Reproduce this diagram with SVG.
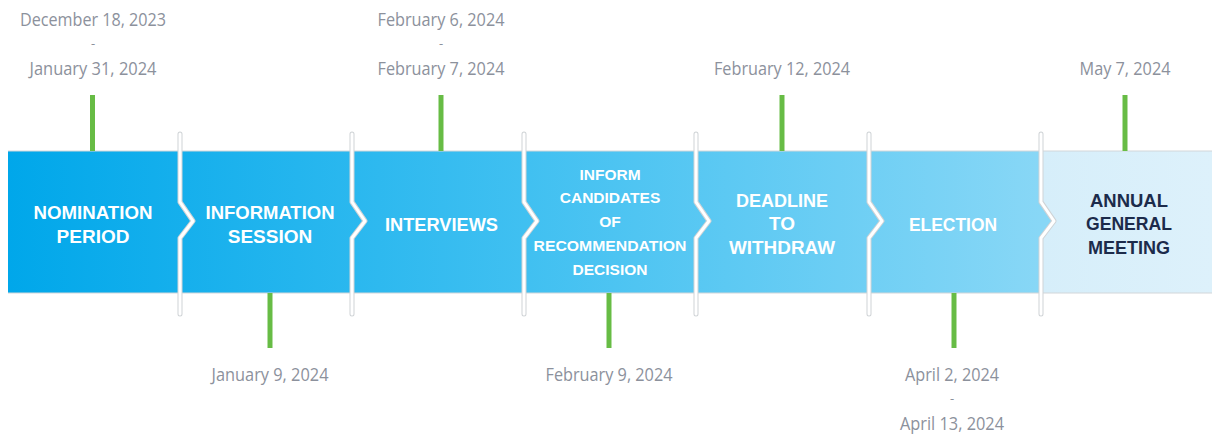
<svg xmlns="http://www.w3.org/2000/svg" width="1212" height="438" viewBox="0 0 1212 438">
<defs>
<linearGradient id="band" gradientUnits="userSpaceOnUse" x1="8" y1="0" x2="1041" y2="0">
<stop offset="0" stop-color="#00A7EA"/>
<stop offset="0.5" stop-color="#40C0F1"/>
<stop offset="1" stop-color="#88D7F6"/>
</linearGradient>
<linearGradient id="last" gradientUnits="userSpaceOnUse" x1="1041" y1="0" x2="1212" y2="0">
<stop offset="0" stop-color="#D6EEFA"/>
<stop offset="1" stop-color="#DDF1FB"/>
</linearGradient>
<style>
.lbl{font-family:"Liberation Sans",Arial,sans-serif;font-weight:bold;font-size:19px;fill:#FFFFFF;text-anchor:middle}
.sm{font-size:15.5px}
.dark{fill:#1C2B4B}
.date{font-family:"Open Sans","Liberation Sans",sans-serif;font-size:19px;fill:#8C919C;text-anchor:middle}
.dash{font-family:"Open Sans","Liberation Sans",sans-serif;font-size:13px;fill:#8C919C;text-anchor:middle}
.sepo{fill:none;stroke:#CFD3D6;stroke-width:5;stroke-linecap:round;stroke-linejoin:round}
.sepi{fill:none;stroke:#FFFFFF;stroke-width:3;stroke-linecap:round;stroke-linejoin:round}
.tick{stroke:#67BC45;stroke-width:5}
</style>
</defs>
<g id="band-bg">
<rect x="1041" y="151" width="171" height="142" fill="url(#last)"/>
<path d="M8,151 H1041 V202 L1054,221 L1041,238 V293 H8 Z" fill="url(#band)"/>
<line x1="8" y1="151" x2="1212" y2="151" stroke="#D2D6D9" stroke-width="1"/>
<line x1="8" y1="293" x2="1212" y2="293" stroke="#D2D6D9" stroke-width="1"/>
</g>
<g id="connectors">
<path class="sepo" d="M180,134 V202 L193,221 L180,238 V314"/>
<path class="sepi" d="M180,134 V202 L193,221 L180,238 V314"/>
<path class="sepo" d="M352,134 V202 L365,221 L352,238 V314"/>
<path class="sepi" d="M352,134 V202 L365,221 L352,238 V314"/>
<path class="sepo" d="M524,134 V202 L537,221 L524,238 V314"/>
<path class="sepi" d="M524,134 V202 L537,221 L524,238 V314"/>
<path class="sepo" d="M696,134 V202 L709,221 L696,238 V314"/>
<path class="sepi" d="M696,134 V202 L709,221 L696,238 V314"/>
<path class="sepo" d="M869,134 V202 L882,221 L869,238 V314"/>
<path class="sepi" d="M869,134 V202 L882,221 L869,238 V314"/>
<path class="sepo" d="M1041,134 V202 L1054,221 L1041,238 V314"/>
<path class="sepi" d="M1041,134 V202 L1054,221 L1041,238 V314"/>
<line class="tick" x1="92.5" y1="95" x2="92.5" y2="151"/>
<line class="tick" x1="441" y1="95" x2="441" y2="151"/>
<line class="tick" x1="782" y1="95" x2="782" y2="151"/>
<line class="tick" x1="1125" y1="95" x2="1125" y2="151"/>
<line class="tick" x1="270" y1="293" x2="270" y2="348"/>
<line class="tick" x1="609" y1="293" x2="609" y2="348"/>
<line class="tick" x1="954" y1="293" x2="954" y2="348"/>
</g>
<g id="nomination">
<text class="lbl" x="93" y="219" textLength="119" lengthAdjust="spacingAndGlyphs">NOMINATION</text>
<text class="lbl" x="93" y="243">PERIOD</text>
<text class="date" x="93" y="26" textLength="146" lengthAdjust="spacingAndGlyphs">December 18, 2023</text>
<text class="dash" x="93" y="48">-</text>
<text class="date" x="93" y="75" textLength="127" lengthAdjust="spacingAndGlyphs">January 31, 2024</text>
</g>
<g id="information-session">
<text class="lbl" x="270" y="219" textLength="129" lengthAdjust="spacingAndGlyphs">INFORMATION</text>
<text class="lbl" x="270" y="243">SESSION</text>
<text class="date" x="270" y="381" textLength="117" lengthAdjust="spacingAndGlyphs">January 9, 2024</text>
</g>
<g id="interviews">
<text class="lbl" x="441.5" y="231" textLength="113" lengthAdjust="spacingAndGlyphs">INTERVIEWS</text>
<text class="date" x="441" y="26" textLength="127" lengthAdjust="spacingAndGlyphs">February 6, 2024</text>
<text class="dash" x="441" y="48">-</text>
<text class="date" x="441" y="75" textLength="127" lengthAdjust="spacingAndGlyphs">February 7, 2024</text>
</g>
<g id="inform-candidates">
<text class="lbl sm" x="610" y="180">INFORM</text>
<text class="lbl sm" x="610" y="203">CANDIDATES</text>
<text class="lbl sm" x="610" y="227">OF</text>
<text class="lbl sm" x="610" y="251" textLength="153" lengthAdjust="spacingAndGlyphs">RECOMMENDATION</text>
<text class="lbl sm" x="610" y="275">DECISION</text>
<text class="date" x="609" y="381" textLength="127" lengthAdjust="spacingAndGlyphs">February 9, 2024</text>
</g>
<g id="deadline">
<text class="lbl" x="782" y="207" textLength="92" lengthAdjust="spacingAndGlyphs">DEADLINE</text>
<text class="lbl" x="782" y="230">TO</text>
<text class="lbl" x="782" y="254" textLength="106" lengthAdjust="spacingAndGlyphs">WITHDRAW</text>
<text class="date" x="782" y="75" textLength="136" lengthAdjust="spacingAndGlyphs">February 12, 2024</text>
</g>
<g id="election">
<text class="lbl" x="953" y="231" textLength="88" lengthAdjust="spacingAndGlyphs">ELECTION</text>
<text class="date" x="952" y="381" textLength="94" lengthAdjust="spacingAndGlyphs">April 2, 2024</text>
<text class="dash" x="952" y="403">-</text>
<text class="date" x="952" y="430" textLength="104" lengthAdjust="spacingAndGlyphs">April 13, 2024</text>
</g>
<g id="agm">
<text class="lbl dark" x="1129" y="207" textLength="78" lengthAdjust="spacingAndGlyphs">ANNUAL</text>
<text class="lbl dark" x="1129" y="230" textLength="86" lengthAdjust="spacingAndGlyphs">GENERAL</text>
<text class="lbl dark" x="1129" y="254" textLength="82" lengthAdjust="spacingAndGlyphs">MEETING</text>
<text class="date" x="1125" y="75" textLength="91" lengthAdjust="spacingAndGlyphs">May 7, 2024</text>
</g>
</svg>
